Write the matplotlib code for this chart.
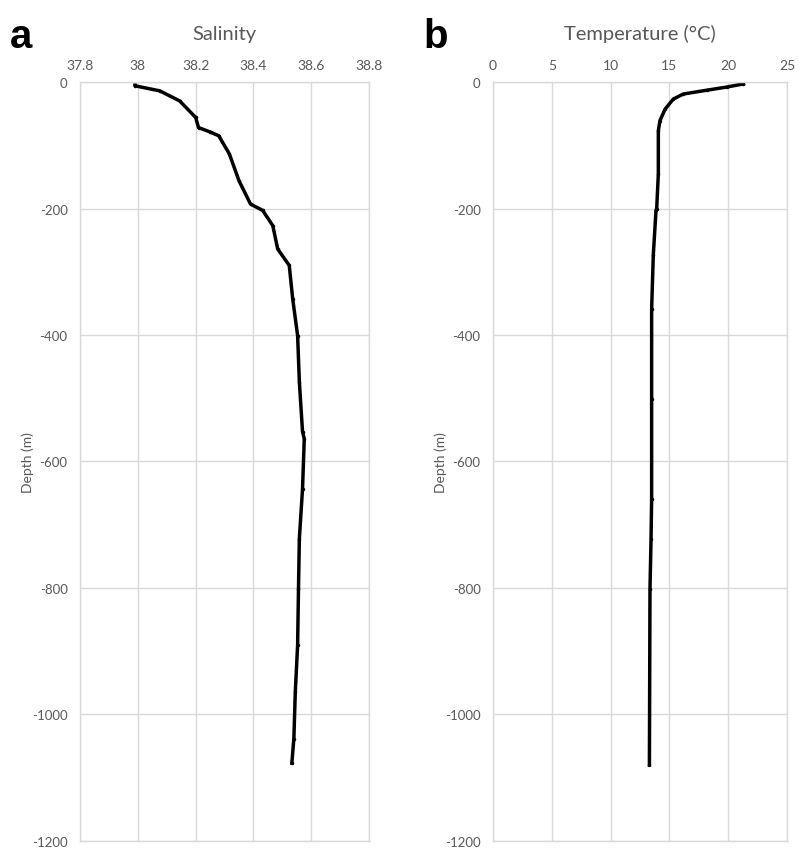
import matplotlib.pyplot as plt

# Salinity profile (depth in m, negative downwards)
sal_depth = [-5, -6, -14, -30, -56, -72, -79, -85, -114, -156, -193, -203,
             -227, -264, -290, -343, -401, -474, -553, -564, -643, -722,
             -801, -890, -964, -1038, -1077]
salinity = [37.99, 37.99, 38.076, 38.145, 38.20, 38.21, 38.25, 38.28, 38.317,
            38.35, 38.39, 38.432, 38.467, 38.484, 38.524, 38.536, 38.553,
            38.559, 38.57, 38.576, 38.57, 38.559, 38.556, 38.553, 38.545,
            38.54, 38.533]

# Temperature profile
temp_depth = [-3, -8, -13, -19, -27, -43, -61, -77, -145, -200, -203, -274,
              -359, -501, -659, -722, -801, -1080]
temperature = [21.3, 19.87, 18.17, 16.18, 15.33, 14.63, 14.2, 14.06, 14.06,
               13.92, 13.86, 13.63, 13.49, 13.49, 13.49, 13.44, 13.35, 13.3]

sal_ticks = [37.8, 38, 38.2, 38.4, 38.6, 38.8]
sal_labels = ["37.8", "38", "38.2", "38.4", "38.6", "38.8"]
temp_ticks = [0, 5, 10, 15, 20, 25]
depth_ticks = [0, -200, -400, -600, -800, -1000, -1200]

plt.rcParams['font.family'] = ['Lato', 'DejaVu Sans']
plt.rcParams['axes.unicode_minus'] = False
grey = "#595959"
grid = "#d9d9d9"

fig = plt.figure(figsize=(7.98, 8.54), dpi=100)
ax1 = fig.add_axes([0.1003, 0.0141, 0.3621, 0.8887])
ax2 = fig.add_axes([0.6178, 0.0141, 0.3684, 0.8887])


def style(ax, xticks, xlabels, xlim, label_x):
    ax.set_xlim(*xlim)
    ax.set_ylim(-1200, 0)
    ax.set_xticks(xticks)
    ax.set_xticklabels(xlabels)
    ax.set_yticks(depth_ticks)
    ax.xaxis.tick_top()
    ax.tick_params(length=0, labelsize=10, labelcolor=grey, pad=8)
    ax.tick_params(axis='y', pad=9, labelsize=9.5)
    ax.grid(True, color=grid, linewidth=1)
    ax.set_axisbelow(True)
    for s in ax.spines.values():
        s.set_color(grid)
        s.set_linewidth(1)
    ax.set_ylabel("Depth (m)", color=grey, fontsize=10)
    ax.yaxis.set_label_coords(label_x, 0.5)


ax1.plot(salinity, sal_depth, color="black", lw=2.5, marker="o", ms=1.5)
style(ax1, sal_ticks, sal_labels, (37.8, 38.8), -0.16)
ax1.set_title("Salinity", color=grey, fontsize=14.5, pad=31)

ax2.plot(temperature, temp_depth, color="black", lw=2.5, marker="o", ms=1.5)
style(ax2, temp_ticks, [str(t) for t in temp_ticks], (0, 25), -0.155)
ax2.set_title("Temperature (°C)", color=grey, fontsize=14.5, pad=31)

fig.text(0.012, 0.957, "a", fontsize=29, fontweight="bold",
         family="Liberation Sans", va="center")
fig.text(0.530, 0.957, "b", fontsize=29, fontweight="bold",
         family="Liberation Sans", va="center")

plt.savefig("out.png", dpi=100)
